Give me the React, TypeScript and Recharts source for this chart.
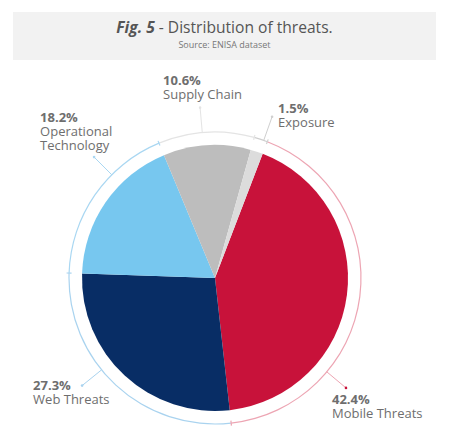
import React from "react";
import { PieChart, Pie, Cell } from "recharts";

// slice data, clockwise from the Exposure/Mobile boundary
const categories = ["Mobile Threats", "Web Threats", "Operational Technology", "Supply Chain", "Exposure"];
const shares = [42.4, 27.3, 18.2, 10.6, 1.5];
const shareLabels = ["42.4%", "27.3%", "18.2%", "10.6%", "1.5%"];
// label text split into lines
const nameLines = [["Mobile Threats"], ["Web Threats"], ["Operational", "Technology"], ["Supply Chain"], ["Exposure"]];

const sliceColors = ["#C8123A", "#082D65", "#77C7EF", "#BDBDBD", "#DCDCDC"];
const ringColors = ["#EDA5B3", "#A9D3EF", "#A9D7F2", "#E4E4E4", "#CFCFCF"];

// layout for leader lines / labels (deg clockwise from 12 o'clock, text offset from leader end)
const leaderAngle = [130, 231, 315, 355, 19.5];
const textOffset = [
  [-14, 16],
  [-49, 4],
  [-54, -35],
  [-37, -23],
  [6, -4],
];

const W = 450;
const H = 441;
const CX = 215;
const CY = 278;
const R = 133;
const RING = 146;
const LEADER = 171;
const TEXT = "#6E6E6E";
const FONT = "'Open Sans', sans-serif";

const data = categories.map((name, i) => ({ name, value: shares[i] }));

const rad = Math.PI / 180;
// recharts angle (ccw from 3 o'clock) -> point
const polar = (cx: number, cy: number, r: number, a: number) => ({
  x: cx + r * Math.cos(-a * rad),
  y: cy + r * Math.sin(-a * rad),
});

function RingLabel(props: any) {
  const { cx, cy, endAngle, index } = props;
  const color = ringColors[index];
  const t1 = polar(cx, cy, RING - 2.5, endAngle);
  const t2 = polar(cx, cy, RING + 2.5, endAngle);
  const la = 90 - leaderAngle[index];
  const p1 = polar(cx, cy, RING, la);
  const p2 = polar(cx, cy, LEADER, la);
  const tx = p2.x + textOffset[index][0];
  const ty = p2.y + textOffset[index][1];
  return (
    <g>
      <line x1={t1.x} y1={t1.y} x2={t2.x} y2={t2.y} stroke={color} strokeWidth={1.2} />
      <line x1={p1.x} y1={p1.y} x2={p2.x} y2={p2.y} stroke={color} strokeWidth={1} />
      <circle cx={p2.x} cy={p2.y} r={1.3} fill={index === 0 ? "#C8123A" : color} />
      <text x={tx} y={ty} fill={TEXT} fontFamily={FONT} fontSize={13} fontWeight={700}>
        {shareLabels[index]}
      </text>
      {nameLines[index].map((ln, j) => (
        <text key={j} x={tx} y={ty + 14 * (j + 1)} fill={TEXT} fontFamily={FONT} fontSize={13}>
          {ln}
        </text>
      ))}
    </g>
  );
}

export default function App() {
  return (
    <div style={{ position: "relative", width: W, height: H, margin: -8, background: "#fff", overflow: "hidden" }}>
      <div
        style={{
          position: "absolute",
          left: 13,
          top: 12,
          width: 423,
          height: 48,
          background: "#F2F2F2",
          textAlign: "center",
          fontFamily: FONT,
          color: "#555",
        }}
      >
        <div style={{ fontSize: 15.6, lineHeight: "20px", paddingTop: 5 }}>
          <span style={{ fontWeight: 700, fontStyle: "italic" }}>Fig. 5</span> - Distribution of threats.
        </div>
        <div style={{ fontSize: 9, lineHeight: "12px", marginTop: 2, color: "#777" }}>Source: ENISA dataset</div>
      </div>
      <div style={{ position: "absolute", left: 0, top: 0 }}>
        <PieChart width={W} height={H} margin={{ top: 0, right: 0, bottom: 0, left: 0 }}>
          <Pie
            data={data}
            dataKey="value"
            cx={CX}
            cy={CY}
            outerRadius={R}
            startAngle={69}
            endAngle={-291}
            stroke="none"
            isAnimationActive={false}
          >
            {data.map((d, i) => (
              <Cell key={d.name} fill={sliceColors[i]} />
            ))}
          </Pie>
          <Pie
            data={data}
            dataKey="value"
            cx={CX}
            cy={CY}
            innerRadius={RING - 0.6}
            outerRadius={RING + 0.6}
            startAngle={69}
            endAngle={-291}
            stroke="none"
            label={RingLabel}
            labelLine={false}
            isAnimationActive={false}
          >
            {data.map((d, i) => (
              <Cell key={d.name} fill={ringColors[i]} />
            ))}
          </Pie>
        </PieChart>
      </div>
    </div>
  );
}
